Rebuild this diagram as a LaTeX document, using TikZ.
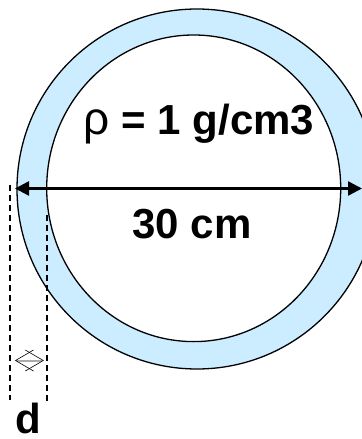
\documentclass[tikz,border=0pt]{standalone}
\usepackage{fontspec}
\setmainfont{Liberation Sans}
\usetikzlibrary{arrows.meta}
\definecolor{ringblue}{RGB}{204,236,255}
\definecolor{midgray}{RGB}{170,170,170}
\tikzset{
  ringline/.style={line width=1.3bp, draw=black},
  dimarrow/.style={line width=2.4bp, {Triangle[length=14bp,width=14bp]}-{Triangle[length=14bp,width=14bp]}},
  guide/.style={line width=1.3bp, dash pattern=on 6bp off 4bp},
  guidethick/.style={line width=1.8bp, dash pattern=on 6bp off 4bp},
  label/.style={inner sep=0pt, font=\fontsize{42bp}{46bp}\selectfont\bfseries},
  thinhead/.style={line width=0.6bp, draw=black}
}
\begin{document}
\begin{tikzpicture}[x=1bp,y=-1bp]
\useasboundingbox (0,0) rectangle (361,439);
% ring
\fill[ringblue] (197,189) circle (180);
\draw[ringline] (197,189) circle (180);
\fill[white] (193.7,188.3) ellipse [x radius=147, y radius=153.3];
\draw[ringline] (193.7,188.3) ellipse [x radius=147, y radius=153.3];
% dimension arrow
\coordinate (aL) at (15,188.5);
\coordinate (aR) at (362,188.5);
\draw[dimarrow] (aL) -- (aR);
% guide lines
\coordinate (g1a) at (10,185);
\coordinate (g1b) at (10,400);
\coordinate (g2a) at (46.7,215);
\coordinate (g2b) at (46.7,402);
\draw[guide] (g1a) -- (g1b);
\draw[guidethick] (g2a) -- (g2b);
% small thickness arrow
\coordinate (sL) at (15.5,360.5);
\coordinate (sR) at (43.3,360.5);
\draw[line width=2bp, midgray] (17,360.5) -- (42,360.5);
\draw[thinhead] (33.5,350) -- (sL) -- (33.5,371);
\draw[thinhead] (25.3,350) -- (sR) -- (25.3,371);
% labels
\node[label, anchor=base] (rho) at (199,135) {{\fontsize{46bp}{46bp}\selectfont\mdseries ρ} = 1 g/cm3};
\node[label, anchor=base] (len) at (192,238.5) {30 cm};
\node[label, anchor=base] (d) at (28,433) {d};
\end{tikzpicture}
\end{document}
